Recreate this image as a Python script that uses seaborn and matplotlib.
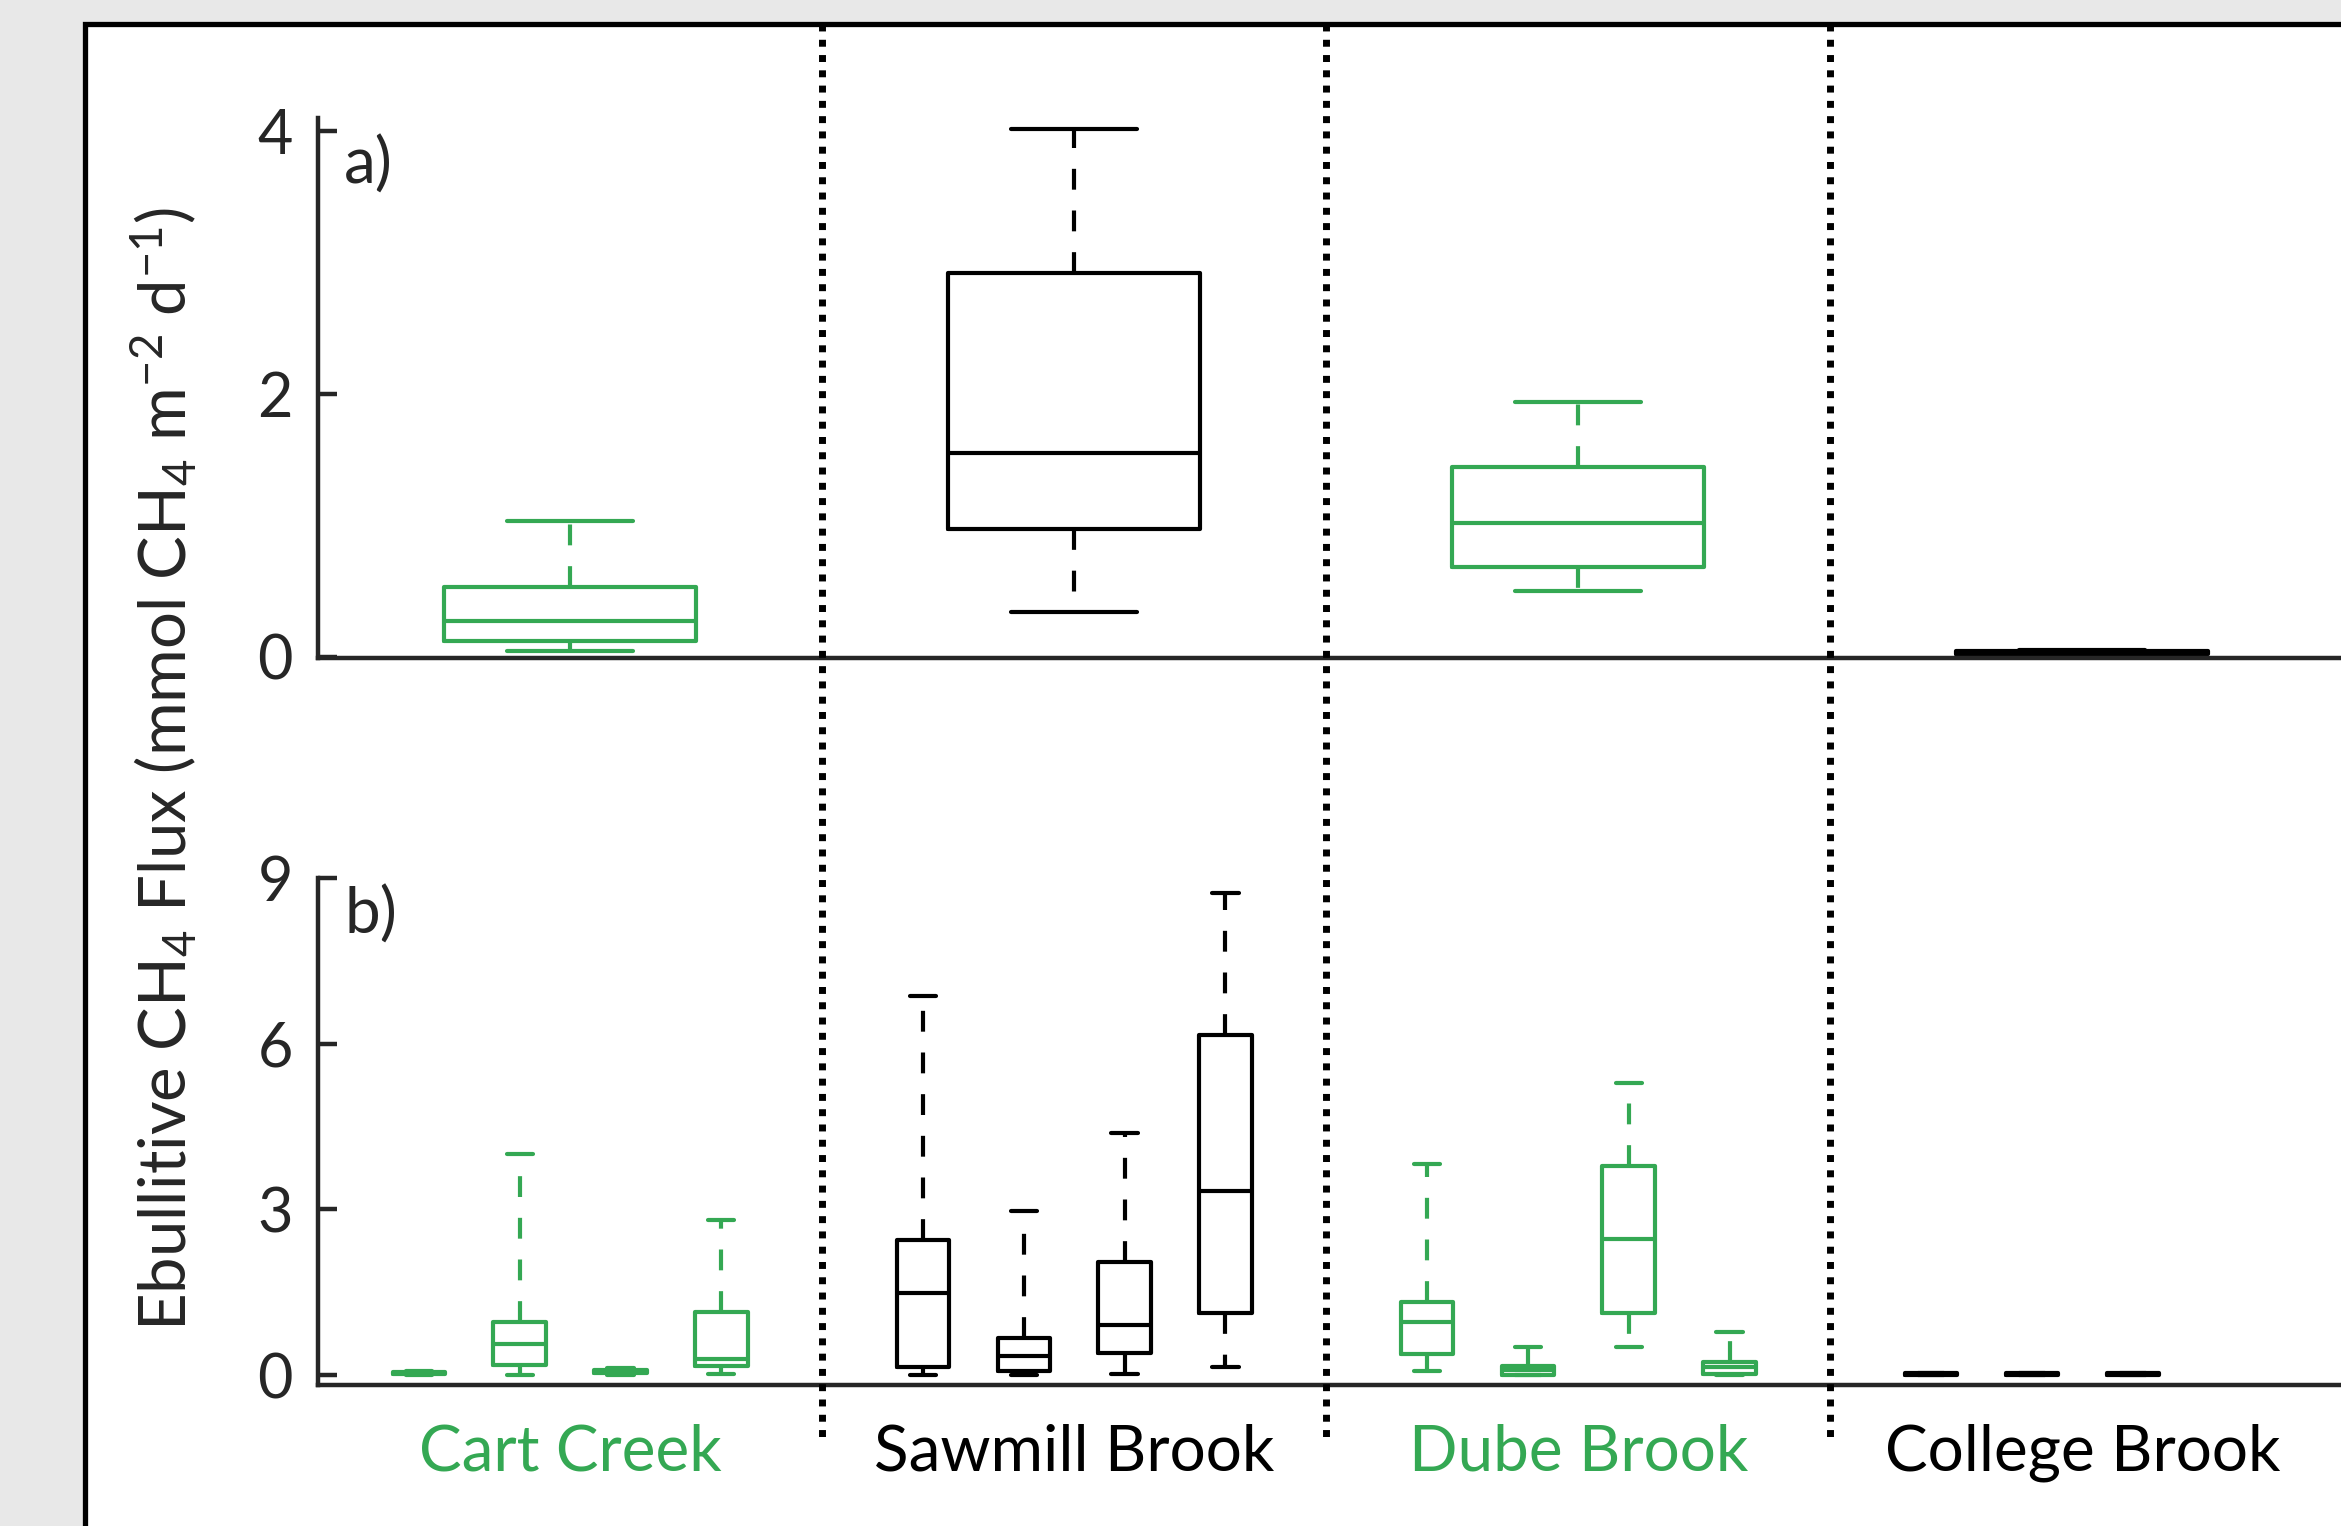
import numpy as np
import pandas as pd
import matplotlib.pyplot as plt
import matplotlib.transforms as mtransforms
from matplotlib.patches import Rectangle
from matplotlib.lines import Line2D
import seaborn as sns

# sites along the x axis, coloured alternately
sites = ["Cart Creek", "Sawmill Brook", "Dube Brook", "College Brook"]
green = "#34A853"
site_colors = [green, "black", green, "black"]

# a) overall flux per site: min, Q1, median, Q3, max (read off the figure)
a_cart = [0.04, 0.12, 0.27, 0.53, 1.03]
a_sawmill = [0.34, 0.97, 1.55, 2.92, 4.02]
a_dube = [0.50, 0.68, 1.02, 1.44, 1.94]
a_college = [0.01, 0.02, 0.03, 0.04, 0.05]

# b) flux per sampling event: min, Q1, median, Q3, max
events = ["Event 1", "Event 2", "Event 3", "Event 4"]
b_cart = [[0.00, 0.02, 0.03, 0.05, 0.07],
          [0.00, 0.18, 0.57, 0.96, 4.00],
          [0.00, 0.03, 0.06, 0.09, 0.12],
          [0.02, 0.17, 0.29, 1.15, 2.81]]
b_sawmill = [[0.00, 0.15, 1.48, 2.45, 6.86],
             [0.00, 0.07, 0.34, 0.67, 2.97],
             [0.02, 0.40, 0.91, 2.05, 4.39],
             [0.15, 1.13, 3.34, 6.16, 8.72]]
b_dube = [[0.07, 0.39, 0.96, 1.32, 3.83],
          [0.00, 0.00, 0.10, 0.17, 0.50],
          [0.50, 1.13, 2.47, 3.79, 5.28],
          [0.00, 0.02, 0.15, 0.23, 0.78]]
b_college = [[0.00, 0.01, 0.02, 0.03, 0.04],
             [0.00, 0.01, 0.02, 0.03, 0.04],
             [0.00, 0.01, 0.02, 0.03, 0.04]]

rows_a = []
for site, vals in zip(sites, [a_cart, a_sawmill, a_dube, a_college]):
    rows_a += [(site, v) for v in vals]
df_a = pd.DataFrame(rows_a, columns=["site", "flux"])

rows_b = []
for site, groups in zip(sites, [b_cart, b_sawmill, b_dube, b_college]):
    for ev, vals in zip(events, groups):
        rows_b += [(site, ev, v) for v in vals]
df_b = pd.DataFrame(rows_b, columns=["site", "event", "flux"])

sns.set_style("ticks")
plt.rcParams["font.family"] = ["Lato", "DejaVu Sans"]
plt.rcParams["mathtext.fontset"] = "custom"
plt.rcParams["mathtext.rm"] = "Lato"
plt.rcParams["mathtext.default"] = "regular"

W, H = 2341, 1526
fig = plt.figure(figsize=(W / 100, H / 100), dpi=100, facecolor="#E8E8E8")

# white framed panel, cut off on the right and bottom
fig.add_artist(Rectangle((85 / W, -0.05), 1.2, 1.05 - 24 / H,
                         transform=fig.transFigure, facecolor="white",
                         edgecolor="black", lw=3.8, zorder=-10))

left = 318 / W
ax_a = fig.add_axes([left, 1 - 658 / H, 1 - left, (658 - 118) / H])
ax_b = fig.add_axes([left, 1 - 1385 / H, 1 - left, (1385 - 878) / H])

lw = 3.0
dash = dict(linestyle=(0, (5, 5)))

sns.boxplot(data=df_a, x="site", y="flux", hue="site", order=sites,
            hue_order=sites, palette=dict(zip(sites, site_colors)),
            fill=False, width=0.5, whis=(0, 100), linewidth=lw,
            whiskerprops=dash, legend=False, ax=ax_a)

for site, color in zip(sites, site_colors):
    sns.boxplot(data=df_b[df_b["site"] == site], x="site", y="flux",
                hue="event", order=sites, hue_order=events,
                palette={e: color for e in events}, fill=False, dodge=True,
                width=0.8, gap=0.48, whis=(0, 100), linewidth=lw,
                whiskerprops=dash, legend=False, ax=ax_b)

for ax in (ax_a, ax_b):
    ax.set_facecolor("none")
    ax.set_xlim(-0.5, 3.513)
    ax.set_xlabel("")
    ax.set_ylabel("")
    ax.spines[["top", "right"]].set_visible(False)
    for s in ("left", "bottom"):
        ax.spines[s].set_linewidth(3.2)
        ax.spines[s].set_color("#262626")
    ax.tick_params(axis="y", direction="in", length=14, width=3.2,
                   color="#262626", pad=18, labelsize=44)

ax_a.set_ylim(-0.01, 4.1)
ax_a.set_yticks([0, 2, 4])
ax_a.tick_params(axis="x", length=0, labelbottom=False)

ax_b.set_ylim(-0.18, 9)
ax_b.set_yticks([0, 3, 6, 9])
ax_b.tick_params(axis="x", length=0, labelsize=46, pad=28)
for lbl, c in zip(ax_b.get_xticklabels(), site_colors):
    lbl.set_color(c)

ax_a.text(0.013, 0.913, "a)", transform=ax_a.transAxes, fontsize=46,
          va="center", ha="left")
ax_b.text(0.013, 0.927, "b)", transform=ax_b.transAxes, fontsize=46,
          va="center", ha="left")

fig.text(164 / W, 1 - 769 / H,
         "Ebullitive CH$_4$ Flux (mmol CH$_4$ m$^{-2}$ d$^{-1}$)",
         rotation=90, ha="center", va="center", fontsize=47)

# dotted separators between sites
trans = mtransforms.blended_transform_factory(ax_b.transData, fig.transFigure)
for xpos in np.arange(len(sites) - 1) + 0.5:
    fig.add_artist(Line2D([xpos, xpos], [1 - 24 / H, 1 - 1441 / H],
                          transform=trans, color="black", lw=5,
                          linestyle=(0, (1, 1.2))))

fig.savefig("out.png", dpi=100, facecolor=fig.get_facecolor())
